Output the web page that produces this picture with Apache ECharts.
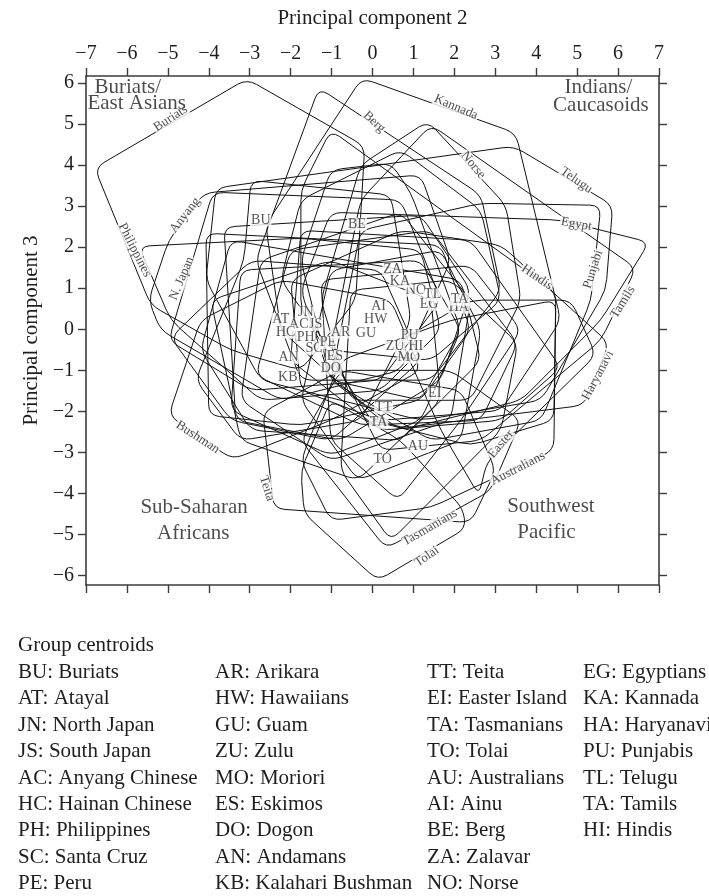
<!DOCTYPE html>
<html>
<head>
<meta charset="utf-8">
<script src="https://cdn.jsdelivr.net/npm/echarts@6/dist/echarts.min.js"></script>
<style>
  html, body { margin: 0; padding: 0; background: #fff; }
  #chart { width: 709px; height: 896px; }
</style>
</head>
<body>
<div id="chart"></div>
<script>
// Axis ticks
const xTicks = [-7, -6, -5, -4, -3, -2, -1, 0, 1, 2, 3, 4, 5, 6, 7];
const yTicks = [-6, -5, -4, -3, -2, -1, 0, 1, 2, 3, 4, 5, 6];

// Group outlines: vertex lists in (PC2, PC3) units
const hullBU = [[-3.07, 6.10], [-0.19, 4.46], [-0.41, 0.71], [-1.75, -1.00], [-3.46, -0.51], [-5.42, 0.59], [-6.79, 3.93]];
const hullAT = [[-4.07, 2.34], [1.67, 2.05], [2.40, -0.02], [1.18, -1.73], [-1.75, -2.34], [-4.00, -2.10]];
const hullJN = [[-3.90, 3.34], [0.69, 3.15], [1.67, 0.71], [0.20, -1.24], [-2.97, -1.49], [-4.98, -0.27]];
const hullJS = [[-3.63, 2.49], [1.18, 2.78], [2.40, 0.95], [1.67, -1.24], [-0.78, -2.71], [-3.34, -2.22]];
const hullAC = [[-4.12, 3.32], [1.18, 3.76], [1.91, 1.68], [0.69, -1.00], [-2.24, -1.73], [-5.18, -0.02], [-5.47, 0.71], [-4.98, 2.17]];
const hullHC = [[-2.97, 3.63], [0.45, 3.27], [0.94, 0.22], [-0.29, -2.22], [-3.22, -2.71], [-4.32, -1.24], [-3.14, 1.68]];
const hullPH = [[-5.71, 2.02], [-1.75, 2.22], [1.18, 1.93], [1.67, -0.02], [0.20, -1.49], [-2.73, -1.73], [-4.93, 0.22]];
const hullSC = [[-3.46, 2.17], [2.16, 1.20], [2.65, -0.76], [0.69, -2.71], [-2.97, -2.46], [-4.20, -0.51]];
const hullPE = [[-2.73, 1.68], [0.69, 2.85], [2.40, 0.71], [1.91, -2.22], [-1.02, -3.20], [-3.22, -1.73]];
const hullAR = [[-2.00, 1.93], [1.43, 2.41], [3.55, -0.34], [2.65, -2.22], [-0.29, -2.34], [-2.85, -1.12]];
const hullHW = [[-1.75, 2.41], [2.40, 2.17], [4.60, -0.93], [3.14, -2.22], [0.20, -2.46], [-2.00, -0.76]];
const hullGU = [[-1.02, 1.44], [1.67, 1.93], [2.65, -0.02], [2.16, -2.71], [-0.36, -3.68], [-1.75, -1.73]];
const hullZU = [[-1.26, 1.20], [2.40, 1.56], [3.63, -0.02], [2.16, -2.22], [0.62, -4.17], [-1.02, -2.71]];
const hullMO = [[-0.53, 0.95], [1.91, 1.20], [3.55, -0.34], [3.14, -2.46], [0.45, -5.15], [-0.78, -3.44]];
const hullES = [[-3.22, 1.44], [1.18, 1.68], [2.16, -0.02], [1.18, -2.22], [-1.02, -3.07], [-3.46, -1.98]];
const hullDO = [[-3.95, 0.71], [-1.02, 1.68], [1.43, 0.71], [1.67, -1.73], [-0.36, -3.68], [-3.22, -2.71]];
const hullAN = [[-4.93, -0.20], [-2.97, 1.68], [0.20, 1.44], [1.18, -0.76], [-1.02, -2.71], [-3.46, -2.22]];
const hullKB = [[-4.98, -2.10], [-3.42, -3.17], [-1.02, -2.22], [1.18, -1.00], [0.45, 0.71], [-2.24, 1.20], [-4.20, 0.22]];
const hullTT = [[-2.68, -2.02], [-2.41, -4.37], [2.40, -4.71], [3.01, -3.44], [2.16, -1.49], [-0.78, -1.00]];
const hullEI = [[2.60, -4.05], [2.79, -3.24], [5.46, -0.63], [4.85, 0.71], [2.40, 0.71], [0.69, -0.27], [1.67, -2.46]];
const hullTAs = [[0.33, -5.34], [2.89, -3.93], [3.63, -2.22], [1.91, -1.00], [-0.78, -1.00], [-1.75, -2.71]];
const hullTO = [[0.13, -6.12], [2.28, -4.85], [2.21, -4.37], [0.69, -2.71], [-1.02, -1.73], [-1.75, -3.44], [-1.67, -4.49]];
const hullAU = [[4.48, 0.71], [4.43, -2.95], [1.43, -4.34], [-1.02, -4.66], [-1.75, -3.20], [-0.78, -0.76], [1.91, 0.22]];
const hullAI = [[-1.02, 3.88], [0.45, 4.05], [0.94, 3.32], [2.16, -0.02], [1.18, -1.73], [-1.02, -1.24], [-1.75, 1.68]];
const hullBE = [[-1.31, 5.88], [2.65, 3.27], [3.14, 0.95], [1.43, -1.24], [-1.75, -1.24], [-2.85, 1.68]];
const hullZA = [[-1.75, 3.15], [0.69, 4.37], [2.65, 2.90], [3.14, 0.71], [1.43, -0.76], [-1.02, -0.51], [-2.24, 1.20]];
const hullNO = [[1.35, 5.07], [3.26, 3.02], [3.63, 0.71], [2.40, -1.73], [-0.53, -1.73], [-1.26, 0.71], [-0.29, 4.00]];
const hullEG = [[-1.02, 2.85], [4.60, 2.66], [6.76, 2.12], [5.58, 0.22], [3.63, -1.73], [0.69, -2.46], [-1.02, -1.24], [-1.75, 0.95]];
const hullKA = [[-0.26, 6.12], [3.50, 4.78], [4.60, 0.22], [3.14, -1.98], [0.20, -2.22], [-2.24, -0.02], [-2.61, 2.54]];
const hullHA = [[5.78, -0.34], [5.17, -1.85], [0.69, -2.41], [-1.75, -1.49], [-2.00, 1.20], [0.69, 2.41], [3.14, 2.05]];
const hullPU = [[-0.29, 2.41], [2.65, 3.07], [5.58, 3.02], [5.34, 0.71], [4.12, -2.22], [1.43, -2.71], [-1.02, -1.24]];
const hullTL = [[-3.83, 3.44], [3.45, 4.46], [5.87, 3.02], [5.70, 0.95], [4.12, -1.73], [1.18, -2.22], [-2.73, -1.24], [-4.07, 1.20]];
const hullTAm = [[1.43, 4.98], [6.44, 1.49], [5.58, -0.27], [2.65, -2.71], [0.20, -2.95], [-1.02, -0.51], [-0.29, 3.15]];
const hullHI = [[-1.02, 4.85], [4.48, 0.90], [4.43, -2.22], [2.40, -2.83], [-0.04, -2.22], [-1.75, 0.46], [-1.75, 3.39]];

// Groups in legend order
const groupCodes = ['BU', 'AT', 'JN', 'JS', 'AC', 'HC', 'PH', 'SC', 'PE',
                    'AR', 'HW', 'GU', 'ZU', 'MO', 'ES', 'DO', 'AN', 'KB',
                    'TT', 'EI', 'TA', 'TO', 'AU', 'AI', 'BE', 'ZA', 'NO',
                    'EG', 'KA', 'HA', 'PU', 'TL', 'TA', 'HI'];
const groupNames = ['Buriats', 'Atayal', 'North Japan', 'South Japan', 'Anyang Chinese', 'Hainan Chinese', 'Philippines', 'Santa Cruz', 'Peru',
                    'Arikara', 'Hawaiians', 'Guam', 'Zulu', 'Moriori', 'Eskimos', 'Dogon', 'Andamans', 'Kalahari Bushman',
                    'Teita', 'Easter Island', 'Tasmanians', 'Tolai', 'Australians', 'Ainu', 'Berg', 'Zalavar', 'Norse',
                    'Egyptians', 'Kannada', 'Haryanavi', 'Punjabis', 'Telugu', 'Tamils', 'Hindis'];
const centroidX = [-2.73, -2.24, -1.63, -1.39, -1.80, -2.12, -1.63, -1.43, -1.09,
                   -0.78, 0.08, -0.16, 0.55, 0.89, -0.92, -1.02, -2.05, -2.07,
                   0.27, 1.52, 0.15, 0.25, 1.11, 0.15, -0.38, 0.49, 1.06,
                   1.38, 0.67, 2.11, 0.91, 1.47, 2.13, 1.06];
const centroidY = [2.66, 0.24, 0.41, 0.12, 0.12, -0.07, -0.20, -0.46, -0.32,
                   -0.07, 0.24, -0.10, -0.41, -0.68, -0.66, -0.95, -0.68, -1.17,
                   -1.90, -1.56, -2.27, -3.17, -2.85, 0.56, 2.56, 1.46, 0.95,
                   0.61, 1.17, 0.54, -0.15, 0.85, 0.73, -0.41];
const outlines = [hullBU, hullAT, hullJN, hullJS, hullAC, hullHC, hullPH, hullSC, hullPE,
                  hullAR, hullHW, hullGU, hullZU, hullMO, hullES, hullDO, hullAN, hullKB,
                  hullTT, hullEI, hullTAs, hullTO, hullAU, hullAI, hullBE, hullZA, hullNO,
                  hullEG, hullKA, hullHA, hullPU, hullTL, hullTAm, hullHI];

// Names written along the outer outlines
const curveLabelNames = ['Buriats', 'Berg', 'Kannada', 'Norse', 'Telugu', 'Egypt', 'Hindis', 'Punjabi', 'Tamils', 'Haryanavi',
                         'Easter', 'Australians', 'Tasmanians', 'Tolai', 'Teita', 'Bushman', 'Philippines', 'Anyang', 'N. Japan'];
const curveLabelX = [-4.93, 0.04, 2.04, 2.46, 4.98, 4.98, 4.02, 5.39, 6.12, 5.51,
                     3.14, 3.55, 1.40, 1.33, -2.58, -4.27, -5.81, -4.58, -4.66];
const curveLabelY = [5.14, 5.05, 5.41, 4.00, 3.63, 2.56, 1.27, 1.46, 0.66, -1.12,
                     -2.80, -3.39, -4.83, -5.54, -3.88, -2.63, 1.93, 2.78, 1.24];
const curveLabelAngle = [33, -43, -23, -51, -35, -10, -35, 72, 58, 62,
                         50, 27, 30, 35, -72, -33, -63, 52, 67];

// Region captions
const regionText = ['Buriats/', 'East Asians', 'Indians/', 'Caucasoids', 'Sub-Saharan', 'Africans', 'Southwest', 'Pacific'];
const regionX = [-5.98, -5.76, 5.52, 5.58, -4.36, -4.38, 4.36, 4.25];
const regionY = [5.90, 5.49, 5.88, 5.46, -4.34, -4.98, -4.32, -4.95];

const SERIF = '"Liberation Serif", "DejaVu Serif", serif';
const INK = '#1e1e1e';
const FRAME = '#3c3c3c';
const minus = v => String(v).replace('-', '\u2212');

// Closed outline with rounded corners through the given pixel vertices
function roundedOutline(pts, radius) {
  const n = pts.length;
  let d = '';
  for (let i = 0; i < n; i++) {
    const p = pts[i], a = pts[(i - 1 + n) % n], b = pts[(i + 1) % n];
    const la = Math.hypot(a[0] - p[0], a[1] - p[1]);
    const lb = Math.hypot(b[0] - p[0], b[1] - p[1]);
    const r = Math.min(radius, la / 2, lb / 2);
    const s = [p[0] + (a[0] - p[0]) * r / la, p[1] + (a[1] - p[1]) * r / la];
    const e = [p[0] + (b[0] - p[0]) * r / lb, p[1] + (b[1] - p[1]) * r / lb];
    d += (i === 0 ? 'M' : 'L') + s[0].toFixed(2) + ',' + s[1].toFixed(2) +
         ' Q' + p[0].toFixed(2) + ',' + p[1].toFixed(2) + ' ' + e[0].toFixed(2) + ',' + e[1].toFixed(2) + ' ';
  }
  return d + 'Z';
}

const chart = echarts.init(document.getElementById('chart'), null, { renderer: 'canvas' });

const axisLineStyle = { show: true, onZero: false, lineStyle: { color: FRAME, width: 1.6 } };
const axisTickStyle = { show: true, inside: false, length: 8, lineStyle: { color: FRAME, width: 1.4 } };

const option = {
  animation: false,
  backgroundColor: '#fff',
  grid: { left: 86, right: 50, top: 76, bottom: 311 },
  xAxis: [
    {
      type: 'value', position: 'top', min: -7, max: 7, interval: 1,
      name: 'Principal component 2', nameLocation: 'middle', nameGap: 47,
      nameTextStyle: { fontFamily: SERIF, fontSize: 21, color: INK },
      axisLine: axisLineStyle, axisTick: axisTickStyle, splitLine: { show: false },
      axisLabel: { margin: 12, fontFamily: SERIF, fontSize: 20, color: INK, formatter: minus }
    },
    {
      type: 'value', position: 'bottom', min: -7, max: 7, interval: 1,
      axisLine: axisLineStyle, axisTick: axisTickStyle, splitLine: { show: false },
      axisLabel: { show: false }
    }
  ],
  yAxis: [
    {
      type: 'value', position: 'left', min: -6.23, max: 6.17,
      name: 'Principal component 3', nameLocation: 'middle', nameGap: 38, nameRotate: 90,
      nameTextStyle: { fontFamily: SERIF, fontSize: 21, color: INK },
      axisLine: axisLineStyle, splitLine: { show: false },
      axisTick: Object.assign({ customValues: yTicks }, axisTickStyle),
      axisLabel: { customValues: yTicks, margin: 12, fontFamily: SERIF, fontSize: 20, color: INK, formatter: minus }
    },
    {
      type: 'value', position: 'right', min: -6.23, max: 6.17,
      axisLine: axisLineStyle, splitLine: { show: false },
      axisTick: Object.assign({ customValues: yTicks }, axisTickStyle),
      axisLabel: { show: false }
    }
  ],
  series: [
    {
      name: 'outlines',
      type: 'custom',
      silent: true,
      clip: true,
      z: 2,
      encode: { x: 0, y: 1 },
      data: outlines.map((h, i) => [centroidX[i], centroidY[i], i]),
      renderItem: function (params, api) {
        const pts = outlines[api.value(2)].map(p => api.coord(p));
        return {
          type: 'path',
          shape: { pathData: roundedOutline(pts, 11) },
          style: { fill: 'none', stroke: '#111', lineWidth: 1 }
        };
      }
    },
    {
      name: 'centroids',
      type: 'scatter',
      silent: true,
      z: 3,
      symbolSize: 1,
      itemStyle: { color: 'rgba(0,0,0,0)' },
      data: groupCodes.map((c, i) => ({ name: c, value: [centroidX[i], centroidY[i]] })),
      label: {
        show: true, position: 'inside', formatter: '{b}',
        fontFamily: SERIF, fontSize: 14, color: '#2a2a2a',
        backgroundColor: '#fff', padding: [0, 1], lineHeight: 13
      }
    },
    {
      name: 'outline names',
      type: 'scatter',
      silent: true,
      z: 4,
      symbolSize: 1,
      itemStyle: { color: 'rgba(0,0,0,0)' },
      data: curveLabelNames.map((n, i) => ({
        name: n, value: [curveLabelX[i], curveLabelY[i]],
        label: { rotate: curveLabelAngle[i] }
      })),
      label: {
        show: true, position: 'inside', formatter: '{b}',
        fontFamily: SERIF, fontSize: 13, color: '#222',
        backgroundColor: '#fff', padding: [0, 1], lineHeight: 13
      }
    },
    {
      name: 'regions',
      type: 'scatter',
      silent: true,
      z: 5,
      symbolSize: 1,
      itemStyle: { color: 'rgba(0,0,0,0)' },
      data: regionText.map((t, i) => ({ name: t, value: [regionX[i], regionY[i]] })),
      label: {
        show: true, position: 'inside', formatter: '{b}',
        fontFamily: SERIF, fontSize: 21, color: INK
      }
    }
  ],
  graphic: []
};

// Key to centroid codes, four columns under the plot
const keyColumnX = [18, 215, 427, 583];
const keyRowsPerColumn = 9;
const keyGraphics = [{
  type: 'text', left: 18, top: 635,
  style: { text: 'Group centroids', font: '21px ' + SERIF, fill: INK }
}];
groupCodes.forEach((c, i) => {
  const col = Math.floor(i / keyRowsPerColumn), row = i % keyRowsPerColumn;
  keyGraphics.push({
    type: 'text', x: keyColumnX[col], y: 662 + row * 26.4,
    style: { text: c + ': ' + groupNames[i], font: '21px ' + SERIF, fill: INK }
  });
});
option.graphic = keyGraphics;

chart.setOption(option);
</script>
</body>
</html>
